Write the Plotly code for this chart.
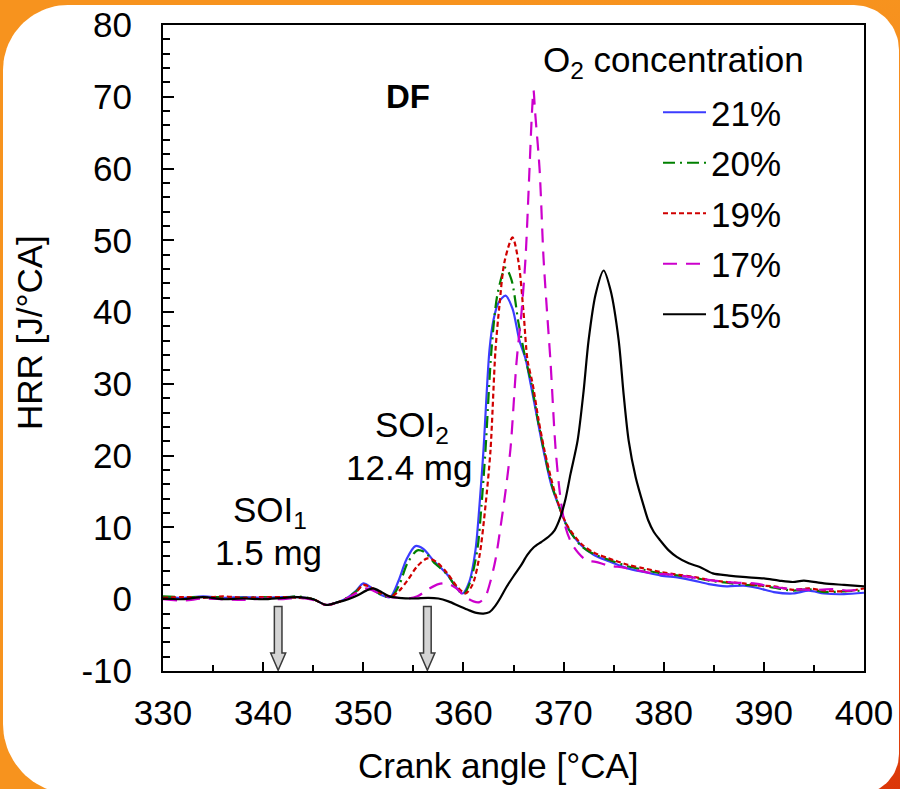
import numpy as np
import plotly.graph_objects as go

# Heat release rate [J/°CA] vs crank angle [°CA] for each intake O2 concentration
ca_21 = [330, 332, 334, 336, 338, 340, 342, 343.5, 345,
         346.3, 347.5, 348.5, 349.3, 350.0, 350.8, 351.8, 352.7,
         353.5, 354.3, 355.2, 356.0, 357.0, 358.4, 359.3, 359.9,
         360.6, 361.2, 361.6, 362.0, 362.6, 363.0, 363.5, 364.2,
         364.9, 365.6, 366.2, 366.7, 367.4, 368.0, 368.8, 369.8,
         370.4, 371.7, 373.0, 374.5, 376.4, 378.0, 379.7, 381.5,
         383.0, 384.5, 386.3, 388.0, 389.6, 391.0, 392.9, 394.5,
         396.0, 398.0, 400.0]
hrr_21 = [0.3, 0.2, 0.4, 0.2, 0.3, 0.2, 0.3, 0.3, 0.0,
          -0.8, -0.4, 0.3, 1.2, 2.2, 1.6, 0.6, 0.3,
          2.5, 5.5, 7.4, 7.0, 5.4, 3.4, 1.6, 0.8,
          2.5, 6.8, 13.0, 20.7, 34.7, 38.9, 41.3, 42.3,
          40.5, 36.0, 33.5, 30.1, 25.0, 20.7, 15.8, 12.0,
          10.0, 7.6, 6.2, 5.3, 4.3, 3.8, 3.3, 3.0,
          2.6, 2.1, 1.8, 1.9, 1.5, 1.0, 0.8, 1.2,
          0.8, 0.7, 0.9]

ca_20 = [330, 332, 334, 336, 338, 340, 342, 343.5, 345,
         346.3, 347.5, 348.5, 349.3, 350.0, 350.8, 351.8, 352.8,
         353.6, 354.4, 355.4, 356.2, 357.0, 358.4, 359.3, 360.0,
         360.7, 361.4, 361.8, 362.2, 362.8, 363.4, 364.2, 364.8,
         365.5, 366.2, 366.8, 367.4, 368.0, 368.8, 369.8,
         370.4, 371.7, 373.0, 374.5, 376.4, 378.0, 379.7, 381.5,
         383.0, 384.5, 386.3, 388.0, 389.6, 391.0, 392.9, 394.5,
         396.0, 398.0, 400.0]
hrr_20 = [0.4, 0.3, 0.3, 0.3, 0.2, 0.3, 0.2, 0.4, 0.0,
          -0.8, -0.4, 0.3, 1.1, 2.0, 1.5, 0.6, 0.3,
          2.0, 5.0, 6.8, 6.5, 5.2, 3.4, 1.6, 0.7,
          2.5, 7.0, 13.0, 20.7, 34.7, 42.5, 46.2, 44.5,
          38.5, 33.5, 30.0, 25.2, 21.0, 16.0, 12.0,
          10.0, 7.5, 6.3, 5.5, 4.6, 4.1, 3.6, 3.3,
          3.0, 2.6, 2.3, 2.0, 1.9, 1.6, 1.2, 1.4,
          1.0, 1.1, 1.2]

ca_19 = [330, 332, 334, 336, 338, 340, 342, 343.5, 345,
         346.3, 347.5, 348.5, 349.3, 350.0, 350.8, 351.8, 352.8,
         353.6, 354.4, 355.4, 356.4, 357.3, 358.4, 359.4, 360.2,
         360.9, 361.6, 362.2, 362.7, 363.2, 363.6, 364.1, 364.9,
         365.5, 366.0, 366.4, 366.9, 367.5, 368.1, 369.0, 369.8,
         370.4, 371.7, 373.0, 374.5, 376.4, 378.0, 379.7, 381.5,
         383.0, 384.5, 386.3, 388.0, 389.6, 391.0, 392.9, 394.5,
         396.0, 398.0, 400.0]
hrr_19 = [0.2, 0.3, 0.2, 0.4, 0.2, 0.3, 0.3, 0.2, 0.0,
          -0.8, -0.4, 0.2, 1.0, 2.0, 1.6, 0.8, 0.4,
          1.2, 2.6, 4.6, 5.7, 5.2, 3.6, 1.7, 0.8,
          2.0, 6.0, 13.0, 20.7, 34.7, 41.0, 47.0, 50.4,
          47.0, 40.0, 33.3, 30.1, 25.0, 20.7, 15.5, 12.0,
          10.2, 7.8, 6.5, 5.7, 4.8, 4.3, 3.8, 3.4,
          3.1, 2.7, 2.4, 2.2, 1.9, 1.8, 1.3, 1.5,
          1.2, 1.1, 1.5]

ca_17 = [330, 332, 334, 336, 338, 340, 342, 343.5, 345,
         346.3, 347.5, 348.5, 349.5, 350.3, 351.0, 352.0, 353.5,
         354.5, 355.4, 356.5, 357.5, 358.4, 359.3, 360.2, 361.0,
         361.6, 362.2, 362.7, 363.2, 363.7, 364.2, 364.7, 365.3,
         365.8, 366.2, 366.6, 366.85, 367.0, 367.15, 367.6, 368.0,
         368.4, 368.7, 369.2, 369.7, 370.2, 370.8, 371.5, 372.3,
         373.2, 374.5, 376.0, 377.5, 379.0, 381.0, 383.0, 385.0,
         387.0, 389.0, 391.0, 393.0, 395.0, 397.0, 398.5, 400.0]
hrr_17 = [0.0, -0.2, 0.1, 0.0, -0.1, 0.1, 0.0, 0.2, -0.1,
          -0.8, -0.4, 0.2, 1.0, 1.5, 1.2, 0.5, 0.2,
          0.1, 0.4, 1.4, 2.1, 2.2, 1.5, 0.3, -0.3,
          -0.4, 0.4, 2.5, 5.5, 10.0, 15.0, 21.0, 33.0,
          40.0, 47.5, 60.0, 68.0, 70.9, 68.0, 60.0, 47.5,
          39.0, 33.0, 21.0, 14.0, 10.0, 7.8, 6.4, 5.4,
          5.2, 4.7, 4.4, 4.0, 3.6, 3.4, 3.0, 2.6,
          2.3, 2.2, 1.7, 1.4, 1.3, 1.4, 1.2, 1.4]

ca_15 = [330, 332, 334, 336, 338, 340, 342, 343.5, 345,
         346.3, 347.5, 348.5, 349.5, 350.3, 351.0, 351.8, 352.6,
         353.5, 355.0, 356.5, 357.5, 358.5, 359.5, 360.5, 361.3,
         362.0, 362.6, 363.2, 363.7, 364.3, 365.0, 365.7, 366.4,
         367.0, 367.8, 368.5, 369.1, 369.7, 370.2, 370.7, 371.4,
         372.0, 372.5, 373.2, 374.0, 374.7, 375.5, 376.0, 376.5,
         377.2, 378.0, 378.45, 379.0, 379.65, 380.5, 381.3, 382.5,
         383.6, 384.9, 386.5, 387.9, 390.0, 391.5, 392.9, 394.0,
         396.0, 398.0, 400.0]
hrr_15 = [0.1, 0.0, 0.3, 0.0, 0.1, 0.0, 0.2, 0.3, 0.0,
          -0.8, -0.4, 0.0, 0.6, 1.2, 1.5, 1.0, 0.4,
          0.2, 0.1, 0.2, 0.1, -0.3, -0.9, -1.5, -1.9,
          -2.0, -1.8, -0.9, 0.2, 1.7, 3.2, 4.6, 6.2,
          7.2, 8.0, 8.7, 9.6, 11.5, 14.0, 17.5, 22.1,
          29.0, 36.1, 42.5, 45.8, 43.0, 36.1, 28.5, 22.1,
          17.0, 13.0, 11.0, 9.4, 8.2, 6.8, 5.9, 5.0,
          4.5, 3.6, 3.3, 3.1, 2.9, 2.6, 2.4, 2.6,
          2.2, 2.0, 1.8]

o2_labels = ["21%", "20%", "19%", "17%", "15%"]
series_ca = [ca_21, ca_20, ca_19, ca_17, ca_15]
series_hrr = [hrr_21, hrr_20, hrr_19, hrr_17, hrr_15]
line_colors = ["#3c3cff", "#008000", "#d00000", "#cc00cc", "#000000"]
line_dashes = ["solid", "12px,5px,2px,5px", "5px,3px", "14px,9px", "solid"]

# axis ticks
x_ticks = [330, 340, 350, 360, 370, 380, 390, 400]
y_ticks = [-10, 0, 10, 20, 30, 40, 50, 60, 70, 80]
y_tick_text = ["-10", "0", "10", "20", "30", "40", "50", "60", "70", "80"]

# injection timings (start of first and second injection)
soi_angles = [341.5, 356.4]

W, H = 900, 789
FONT = "Arial, Liberation Sans, sans-serif"


def rounded_panel(x0, y0, x1, y1, r_tl, r_tr, r_br, r_bl, n=24):
    """Polygon outline of a rectangle with individually rounded corners."""
    pts = []
    corners = [
        (x0 + r_tl, y0 + r_tl, r_tl, np.pi, 1.5 * np.pi),
        (x1 - r_tr, y0 + r_tr, r_tr, 1.5 * np.pi, 2 * np.pi),
        (x1 - r_br, y1 - r_br, r_br, 0, 0.5 * np.pi),
        (x0 + r_bl, y1 - r_bl, r_bl, 0.5 * np.pi, np.pi),
    ]
    for cx, cy, r, a0, a1 in corners:
        t = np.linspace(a0, a1, n)
        pts += list(zip(cx + r * np.cos(t), cy + r * np.sin(t)))
    pts.append(pts[0])
    xs, ys = zip(*pts)
    return list(xs), list(ys)


fig = go.Figure()

# frame: orange border turning red towards the lower right, white rounded panel on top
fig.add_trace(go.Scatter(
    x=[-5, W + 5, W + 5, -5, -5], y=[-5, -5, H + 5, H + 5, -5], fill="toself",
    mode="lines", line=dict(width=0), fillcolor="#f7931e",
    xaxis="x", yaxis="y", hoverinfo="skip", showlegend=False))
fig.add_trace(go.Scatter(
    x=[520, W + 5, W + 5, 520, 520], y=[-5, -5, H + 5, H + 5, -5], fill="toself",
    mode="lines", line=dict(width=0),
    fillgradient=dict(type="vertical",
                      colorscale=[[0, "#db3608"], [0.5, "#f47a20"], [1, "#f7931e"]]),
    xaxis="x", yaxis="y", hoverinfo="skip", showlegend=False))
px, py = rounded_panel(3, 5, 899, 794, 65, 45, 40, 70)
fig.add_trace(go.Scatter(
    x=px, y=py, fill="toself", mode="lines", line=dict(width=0),
    fillcolor="white", xaxis="x", yaxis="y", hoverinfo="skip", showlegend=False))

# HRR curves
for lab, xs, ys, col, dash in zip(o2_labels, series_ca, series_hrr,
                                  line_colors, line_dashes):
    fig.add_trace(go.Scatter(
        x=xs, y=ys, name=lab, mode="lines",
        line=dict(color=col, width=2.2, dash=dash, shape="spline", smoothing=0.8),
        xaxis="x2", yaxis="y2", legendgroup=lab, hoverinfo="skip"))

# block arrows marking the injection timings
shaft_hw, head_hw = 0.38, 0.75
y_top, y_neck, y_tip = -1.0, -7.5, -9.9
shapes = []
for a in soi_angles:
    path = (f"M {a - shaft_hw},{y_top} L {a + shaft_hw},{y_top} "
            f"L {a + shaft_hw},{y_neck} L {a + head_hw},{y_neck} L {a},{y_tip} "
            f"L {a - head_hw},{y_neck} L {a - shaft_hw},{y_neck} Z")
    shapes.append(dict(type="path", path=path, xref="x2", yref="y2",
                       fillcolor="#d4d4d4", line=dict(color="#3a3a3a", width=1.5),
                       layer="above"))


def ann(text, x, y, size=35, **kw):
    return dict(text=text, x=x / W, y=1 - y / H, xref="paper", yref="paper",
                showarrow=False, xanchor="center", yanchor="middle",
                font=dict(family=FONT, size=size, color="black"), **kw)


annotations = [
    ann("O<sub>2</sub> concentration", 673, 62),
    ann("<b>DF</b>", 408, 97, size=33),
    ann("SOI<sub>1</sub>", 270, 512),
    ann("1.5 mg", 268, 552),
    ann("SOI<sub>2</sub>", 412, 427),
    ann("12.4 mg", 409, 467),
    ann("Crank angle [°CA]", 498, 765),
    ann("HRR [J/°CA]", 30, 333, textangle=-90),
]

x0p, x1p = 163, 864
y0p, y1p = 25, 671

fig.update_layout(
    template="none",
    width=W, height=H, autosize=False,
    margin=dict(l=0, r=0, t=0, b=0, autoexpand=False),
    paper_bgcolor="white", plot_bgcolor="rgba(0,0,0,0)",
    font=dict(family=FONT, size=35, color="black"),
    showlegend=True,
    legend=dict(x=658 / W, y=1 - 83 / H, xanchor="left", yanchor="top",
                bgcolor="rgba(0,0,0,0)", font=dict(size=35),
                tracegroupgap=2, itemwidth=43),
    xaxis=dict(domain=[0, 1], range=[0, W], visible=False, fixedrange=True,
               automargin=False),
    yaxis=dict(domain=[0, 1], range=[H, 0], visible=False, fixedrange=True,
               automargin=False),
    xaxis2=dict(domain=[x0p / W, x1p / W], anchor="y2", range=[330, 400],
                tickmode="array", tickvals=x_ticks, ticks="inside", ticklen=9,
                tickwidth=1.5, tickcolor="black",
                minor=dict(dtick=5, tick0=330, ticks="inside", ticklen=6,
                           tickwidth=1.5, tickcolor="black"),
                showline=True, linewidth=2, linecolor="black", mirror=True,
                showgrid=False, zeroline=False, automargin=False,
                tickfont=dict(size=35), ticklabelstandoff=10),
    yaxis2=dict(domain=[1 - y1p / H, 1 - y0p / H], anchor="x2", range=[-10, 80],
                tickmode="array", tickvals=y_ticks, ticktext=y_tick_text,
                ticks="inside", ticklen=11, tickwidth=1.5, tickcolor="black",
                minor=dict(dtick=2, tick0=0, ticks="inside", ticklen=7,
                           tickwidth=1.5, tickcolor="black"),
                showline=True, linewidth=2, linecolor="black", mirror=True,
                showgrid=False, zeroline=False, automargin=False,
                tickfont=dict(size=35), ticklabelstandoff=22),
    shapes=shapes,
    annotations=annotations,
)

fig.write_html("out.html")
